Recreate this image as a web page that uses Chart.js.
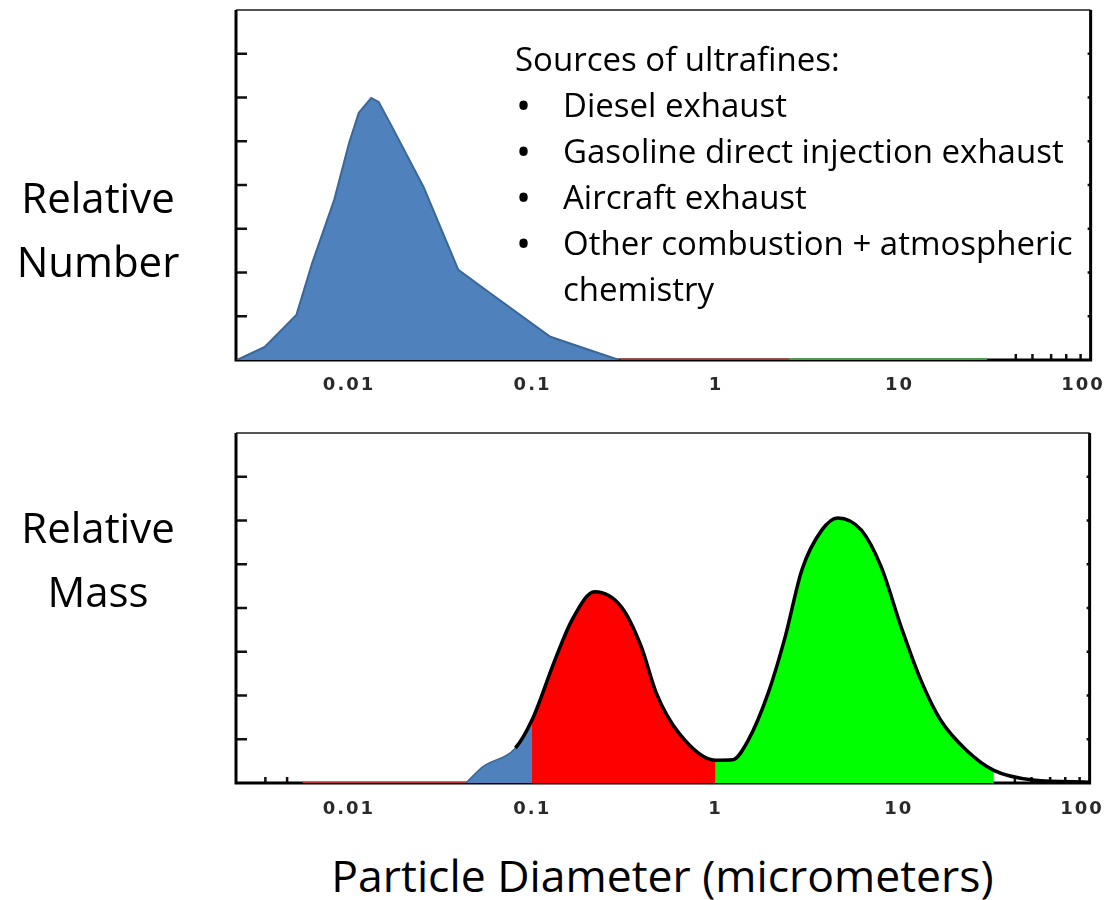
<!DOCTYPE html>
<html lang="en">
  <head>
    <meta charset="UTF-8" />
    <title>Particle size distributions</title>
    <script src="https://cdn.jsdelivr.net/npm/chart.js"></script>
    <style>
      body {
        margin: 0;
        width: 1117px;
        height: 900px;
        position: relative;
        overflow: hidden;
        background: #fff;
        font-family: "Open Sans", sans-serif;
        color: #000;
      }
      .box { position: absolute; left: 0; width: 1117px; }
      .side {
        position: absolute;
        left: 0;
        width: 196px;
        text-align: center;
        font-size: 42px;
        line-height: 64px;
      }
      .sources {
        position: absolute;
        left: 515px;
        top: 36px;
        font-size: 33px;
        line-height: 46px;
      }
      .item { position: relative; padding-left: 48px; }
      .dot { position: absolute; left: 1px; top: 0; font-size: 40px; line-height: 46px; }
      .title {
        position: absolute;
        left: 200px;
        width: 925px;
        top: 849px;
        text-align: center;
        font-size: 44.5px;
        line-height: 52px;
      }
    </style>
  </head>
  <body>
    <div class="box" style="top: 0; height: 415px"><canvas id="numChart"></canvas></div>
    <div class="box" style="top: 420px; height: 420px"><canvas id="massChart"></canvas></div>

    <div class="side" style="top: 165px">Relative<br />Number</div>
    <div class="side" style="top: 495px">Relative<br />Mass</div>

    <div class="sources">
      <div>Sources of ultrafines:</div>
      <div class="item"><span class="dot">•</span>Diesel exhaust</div>
      <div class="item"><span class="dot">•</span>Gasoline direct injection exhaust</div>
      <div class="item"><span class="dot">•</span>Aircraft exhaust</div>
      <div class="item">
        <span class="dot">•</span>Other combustion + atmospheric<br />chemistry
      </div>
    </div>

    <div class="title">Particle Diameter (micrometers)</div>

    <script>
      // relative number distribution (top panel)
      const numX = [0.00245, 0.00347, 0.00516, 0.0063, 0.0083, 0.01, 0.0113, 0.0132, 0.0145, 0.0175, 0.0255, 0.0394, 0.0586, 0.125, 0.296];
      const numY = [0, 0.3, 1.03, 2.22, 3.66, 4.96, 5.65, 5.99, 5.9, 5.26, 3.95, 2.06, 1.53, 0.53, 0];

      // relative mass distribution (bottom panel)
      const massX = [0.0435, 0.0537, 0.081, 0.1, 0.133, 0.165, 0.219, 0.307, 0.394, 0.475, 0.632, 1.0, 1.24, 1.51, 1.94, 2.4, 2.96, 3.8, 4.64, 6.25, 8.02, 10.3, 13.2, 16.9, 23.4, 33, 54, 110];
      const massY = [0, 0.37, 0.8, 1.45, 2.81, 3.73, 4.37, 4.02, 3.11, 2.06, 1.14, 0.52, 0.53, 0.98, 2.06, 3.34, 4.87, 5.78, 6.06, 5.78, 4.94, 3.57, 2.35, 1.44, 0.75, 0.29, 0.07, 0.02];

      // thin coloured traces lying on the baseline
      const numRedX = [0.3, 2.5];
      const numGreenX = [2.5, 30];
      const massRedX = [0.0056, 0.0435];

      const xLabels = [0.01, 0.1, 1, 10, 100];
      const yTicks = [1, 2, 3, 4, 5, 6, 7];
      const minorLeft = [0.0035, 0.0046];
      const minorRight = [43, 53, 67, 81, 97];

      const BLUE = "#4f81bd";
      const BLUE_EDGE = "#3b6796";
      const CLEAR = "rgba(0,0,0,0)";

      const pts = (xs, ys) => xs.map((x, i) => ({ x, y: ys[i] }));
      const flat = (xs) => xs.map((x) => ({ x, y: 0 }));

      const frame = {
        id: "frame",
        beforeDraw(chart) {
          chart.ctx.letterSpacing = "2px";
        },
        beforeDatasetsDraw(chart, args, o) {
          const { ctx, chartArea: a, scales: { x, y } } = chart;
          ctx.save();
          ctx.strokeStyle = "#111";
          ctx.lineWidth = 2.5;
          ctx.beginPath();
          yTicks.forEach((v) => {
            const py = y.getPixelForValue(v);
            ctx.moveTo(a.left, py);
            ctx.lineTo(a.left + 11, py);
            ctx.moveTo(a.right, py);
            ctx.lineTo(a.right - 3, py);
          });
          o.minor.forEach((v) => {
            const px = x.getPixelForValue(v);
            ctx.moveTo(px, a.bottom);
            ctx.lineTo(px, a.bottom - 6);
          });
          ctx.stroke();

          ctx.strokeStyle = "#555";
          ctx.lineWidth = 2;
          ctx.beginPath();
          ctx.moveTo(a.left, a.top);
          ctx.lineTo(a.right, a.top);
          ctx.stroke();

          ctx.strokeStyle = "#000";
          ctx.lineWidth = 3;
          ctx.beginPath();
          ctx.moveTo(a.left, a.top);
          ctx.lineTo(a.left, a.bottom);
          ctx.lineTo(a.right, a.bottom);
          ctx.lineTo(a.right, a.top);
          ctx.stroke();
          ctx.restore();
        },
      };

      function xAxis(pad) {
        return {
          type: "logarithmic",
          min: 0.00242,
          max: 110,
          grid: { display: false, drawTicks: false },
          border: { display: false },
          afterBuildTicks: (s) => {
            s.ticks = xLabels.map((v) => ({ value: v }));
          },
          ticks: {
            autoSkip: false,
            maxRotation: 0,
            padding: pad,
            color: "#2a2a2a",
            font: { family: "DejaVu Sans", weight: "bold", size: 18 },
            callback: (v) => String(v),
          },
        };
      }

      const yAxis = { display: false, min: 0, max: 8 };

      function baseOptions(pad, padding, minor) {
        return {
          responsive: true,
          maintainAspectRatio: false,
          animation: false,
          layout: { padding, autoPadding: false },
          elements: { point: { radius: 0 } },
          plugins: {
            legend: { display: false },
            tooltip: { enabled: false },
            frame: { minor },
          },
          scales: { x: xAxis(pad), y: yAxis },
        };
      }

      new Chart(document.getElementById("numChart"), {
        type: "line",
        data: {
          datasets: [
            {
              data: pts(numX, numY),
              fill: "origin",
              backgroundColor: BLUE,
              borderColor: BLUE_EDGE,
              borderWidth: 2,
              tension: 0,
            },
            { data: flat(numRedX), borderColor: "#b8322a", borderWidth: 3, fill: false },
            { data: flat(numGreenX), borderColor: "#22b422", borderWidth: 3, fill: false },
          ],
        },
        options: baseOptions(15, { left: 236, right: 20, top: 10, bottom: 3.4 }, minorRight),
        plugins: [frame],
      });

      // same curve stacked in layers: green under red under blue, outline on top
      const massCurve = (extra) =>
        Object.assign({ data: pts(massX, massY), cubicInterpolationMode: "monotone" }, extra);

      new Chart(document.getElementById("massChart"), {
        type: "line",
        data: {
          datasets: [
            massCurve({
              fill: false,
              borderColor: "#000",
              borderWidth: 3.5,
              segment: {
                borderColor: (c) => (c.p0.parsed.x < 0.08 ? BLUE_EDGE : "#000"),
                borderWidth: (c) => (c.p0.parsed.x < 0.08 ? 1.5 : 3.5),
              },
            }),
            massCurve({
              fill: "origin",
              borderWidth: 0,
              backgroundColor: BLUE,
              segment: { backgroundColor: (c) => (c.p0.parsed.x < 0.1 ? BLUE : CLEAR) },
            }),
            massCurve({
              fill: "origin",
              borderWidth: 0,
              backgroundColor: "#ff0000",
              segment: { backgroundColor: (c) => (c.p0.parsed.x < 1 ? "#ff0000" : CLEAR) },
            }),
            massCurve({
              fill: "origin",
              borderWidth: 0,
              backgroundColor: "#00ff00",
              segment: { backgroundColor: (c) => (c.p0.parsed.x < 33 ? "#00ff00" : CLEAR) },
            }),
            { data: flat(massRedX), borderColor: "#c0392b", borderWidth: 2, fill: false },
          ],
        },
        options: baseOptions(16, { left: 236, right: 20, top: 13, bottom: 3.4 }, minorLeft.concat(minorRight)),
        plugins: [frame],
      });
    </script>
  </body>
</html>
